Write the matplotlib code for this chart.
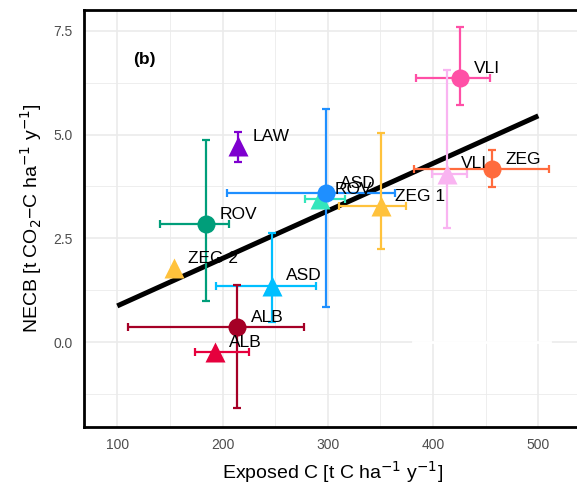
import numpy as np
import matplotlib
matplotlib.use("Agg")
from matplotlib import pyplot as plt

plt.rcParams['font.family'] = ['Liberation Sans', 'DejaVu Sans']

# Exposed C vs NECB, per site (circles and triangles)
sites = ['VLI', 'VLI', 'ZEG', 'LAW', 'ROV', 'ASD', 'ZEG 1', 'ROV', 'ZEG 2', 'ASD', 'ALB', 'ALB']
shapes = ['o', '^', 'o', '^', '^', 'o', '^', 'o', '^', '^', 'o', '^']
colors = ['#FF4FA6', '#F9B4F1', '#FF6B3D', '#7E00CF', '#33E6BC', '#1E8FFF',
          '#FFC23C', '#009E7A', '#FFC23C', '#00BFFF', '#A50026', '#E6003D']

exposed_c = [426, 413, 456, 215, 293, 298, 351, 184, 154, 247, 214, 193]
exposed_lo = [384, 399, 382, 215, 278, 204, 311, 141, 154, 194, 110, 174]
exposed_hi = [454, 432, 510, 215, 316, 364, 374, 206, 154, 289, 277, 225]

necb = [6.35, 4.06, 4.16, 4.72, 3.44, 3.58, 3.28, 2.85, 1.78, 1.36, 0.36, -0.25]
necb_lo = [5.70, 2.75, 3.74, 4.34, 3.44, 0.85, 2.23, 0.99, 1.78, 0.49, -1.58, -0.25]
necb_hi = [7.58, 6.55, 4.63, 5.07, 3.44, 5.62, 5.04, 4.87, 1.78, 2.62, 1.37, -0.25]

# linear fit drawn across the data
fit_x = [100, 500]
fit_y = [0.87, 5.45]

fig = plt.figure(figsize=(5.77, 4.92), dpi=100)
ax = fig.add_axes([84/577, 65.3/492, 498/577, 416.7/492])

ax.set_xlim(68.4, 541.5)
ax.set_ylim(-2.04, 8.0)
ax.set_xticks([100, 200, 300, 400, 500])
ax.set_xticks([150, 250, 350, 450], minor=True)
ax.set_yticks([0, 2.5, 5, 7.5])
ax.set_yticklabels(['0.0', '2.5', '5.0', '7.5'])
ax.set_yticks([-1.25, 1.25, 3.75, 6.25], minor=True)
ax.set_axisbelow(True)
ax.grid(which='major', color='#EBEBEB', lw=1.2)
ax.grid(which='minor', color='#EBEBEB', lw=0.6)
ax.tick_params(which='both', length=0, labelsize=10, labelcolor='#4D4D4D', pad=8)
for s in ax.spines.values():
    s.set_color('black')
    s.set_linewidth(2)

# gap in the zero gridline as in the original
ax.plot([381, 511], [0, 0], color='white', lw=2, zorder=0.7)

ax.plot(fit_x, fit_y, color='black', lw=3.6, solid_capstyle='butt', zorder=1)

for i in range(len(sites)):
    x, y = exposed_c[i], necb[i]
    xe = [[x - exposed_lo[i]], [exposed_hi[i] - x]]
    ye = [[y - necb_lo[i]], [necb_hi[i] - y]]
    ax.errorbar([x], [y], xerr=xe, yerr=ye, fmt='none', ecolor=colors[i],
                elinewidth=1.6, capsize=3, capthick=1.6, zorder=2 + i*0.01)
    ms = 13 if shapes[i] == 'o' else 15
    ax.plot([x], [y], marker=shapes[i], ms=ms, color=colors[i], mec='none', zorder=3 + i*0.01)
    ax.annotate(sites[i], (x, y), xytext=(10, 7), textcoords='offset points',
                ha='left', va='center', fontsize=12.5, zorder=5)

ax.text(126, 6.8, '(b)', fontsize=12.5, fontweight='bold', ha='center', va='center')

ax.set_xlabel('Exposed C [t C ha$^{-1}$ y$^{-1}$]', fontsize=14, labelpad=5)
ax.set_ylabel('NECB [t CO$_2$\u2212C ha$^{-1}$ y$^{-1}$]', fontsize=14, labelpad=7)

fig.savefig('out.png', dpi=100)
